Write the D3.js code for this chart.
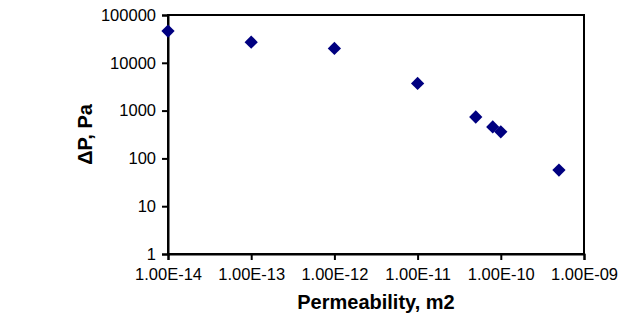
<!DOCTYPE html>
<html>
<head>
<meta charset="utf-8">
<script src="https://cdn.jsdelivr.net/npm/d3@7"></script>
<style>
  body { margin: 0; background: #fff; }
  text { font-family: "Liberation Sans", Arial, sans-serif; }
</style>
</head>
<body>
<svg width="629" height="320"></svg>
<script>
// permeability (m2) vs pressure drop (Pa)
const permeability = [1e-14, 1e-13, 1e-12, 1e-11, 5e-11, 8e-11, 1e-10, 5e-10];
const pressureDrop = [46000, 27000, 20000, 3700, 735, 455, 360, 57];
const xTicks = [1e-14, 1e-13, 1e-12, 1e-11, 1e-10, 1e-9];
const xTickLabels = ["1.00E-14", "1.00E-13", "1.00E-12", "1.00E-11", "1.00E-10", "1.00E-09"];
const yTicks = [1, 10, 100, 1000, 10000, 100000];

const svg = d3.select("svg");
const margin = { left: 168, right: 45, top: 15, bottom: 66 };
const width = +svg.attr("width"),
  height = +svg.attr("height");

const x = d3.scaleLog().domain([1e-14, 1e-9]).range([margin.left, width - margin.right]);
const y = d3.scaleLog().domain([1, 100000]).range([height - margin.bottom, margin.top]);

// frame
svg.append("rect")
  .attr("x", x(1e-14)).attr("y", y(100000))
  .attr("width", x(1e-9) - x(1e-14)).attr("height", y(1) - y(100000))
  .attr("fill", "none").attr("stroke", "#000").attr("stroke-width", 2);

const xAxis = svg.append("g")
  .attr("transform", `translate(0,${y(1)})`)
  .call(d3.axisBottom(x).tickValues(xTicks).tickFormat((d, i) => xTickLabels[i]).tickSize(6).tickPadding(7));

const yAxis = svg.append("g")
  .attr("transform", `translate(${x(1e-14)},0)`)
  .call(d3.axisLeft(y).tickValues(yTicks).tickFormat(d3.format("d")).tickSize(6).tickPadding(6));

[xAxis, yAxis].forEach(g => {
  g.select(".domain").attr("stroke-width", 2);
  g.selectAll(".tick line").attr("stroke-width", 2);
  g.selectAll(".tick text").attr("font-size", 16.5).attr("fill", "#000")
    .style("font-family", '"Liberation Sans", Arial, sans-serif');
});
xAxis.selectAll(".tick text").attr("dy", "0.78em");

// points
svg.append("g")
  .selectAll("path")
  .data(permeability)
  .join("path")
  .attr("d", d3.symbol(d3.symbolSquare, 88))
  .attr("transform", (d, i) => `translate(${x(d)},${y(pressureDrop[i])}) rotate(45)`)
  .attr("fill", "#000080");

// axis titles
svg.append("text")
  .attr("x", (x(1e-14) + x(1e-9)) / 2)
  .attr("y", 309)
  .attr("text-anchor", "middle")
  .attr("font-size", 20)
  .attr("font-weight", "bold")
  .text("Permeability, m2");

svg.append("text")
  .attr("transform", `translate(92,${(y(1) + y(100000)) / 2}) rotate(-90)`)
  .attr("text-anchor", "middle")
  .attr("font-size", 20)
  .attr("font-weight", "bold")
  .text("ΔP, Pa");
</script>
</body>
</html>
